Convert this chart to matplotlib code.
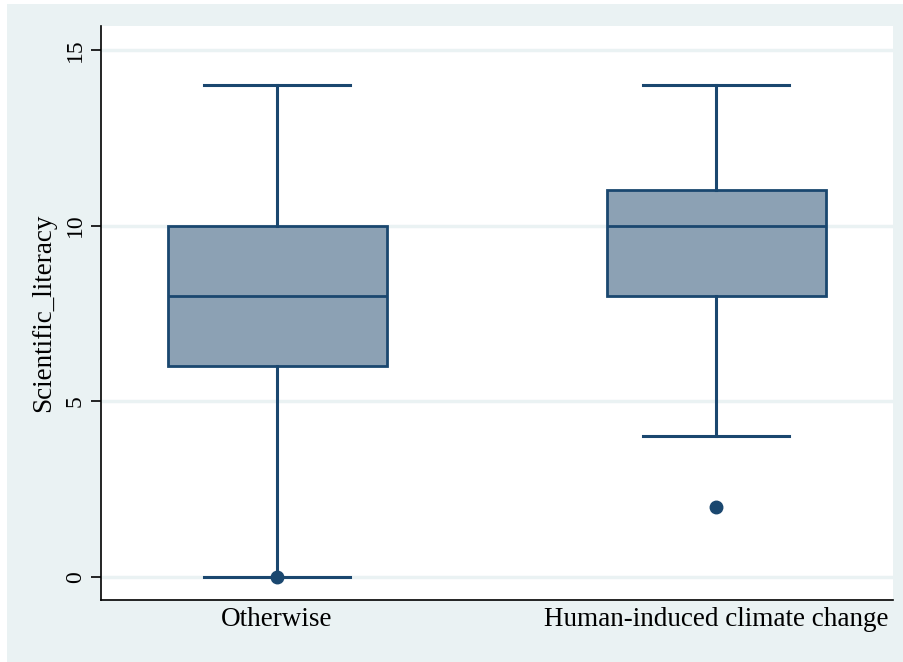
import matplotlib
matplotlib.use("Agg")
import matplotlib.pyplot as plt
from matplotlib.patches import Rectangle

categories = ["Otherwise", "Human-induced climate change"]
whisker_low = [0, 4]
q1 = [6, 8]
median = [8, 10]
q3 = [10, 11]
whisker_high = [14, 14]
outliers = [[0], [2]]
yticks = [0, 5, 10, 15]
ylabel = "Scientific_literacy"

plt.rcParams["font.family"] = ["Liberation Serif", "DejaVu Serif"]

W, H = 904, 662
fig = plt.figure(figsize=(W / 100, H / 100), dpi=100)
fig.patch.set_facecolor("white")
bg = "#EAF2F3"
fig.patches.append(Rectangle((7 / W, 0), 1, (H - 4) / H, transform=fig.transFigure,
                             facecolor=bg, edgecolor="none", zorder=-10))

ax = fig.add_axes([101 / W, (H - 600) / H, (893 - 101) / W, (600 - 26) / H])
ax.set_facecolor("white")

navy = "#1A476F"
fill = "#8CA1B4"
stats = []
for i, c in enumerate(categories):
    stats.append(dict(label=c, whislo=whisker_low[i], q1=q1[i], med=median[i],
                      q3=q3[i], whishi=whisker_high[i], fliers=outliers[i]))
ax.bxp(stats, positions=[0, 1], widths=0.499, patch_artist=True, showcaps=True,
       boxprops=dict(facecolor=fill, edgecolor=navy, linewidth=2.0),
       medianprops=dict(color=navy, linewidth=2.0),
       whiskerprops=dict(color=navy, linewidth=2.2),
       capprops=dict(color=navy, linewidth=2.2),
       capwidths=0.333,
       flierprops=dict(marker="o", markerfacecolor=navy, markeredgecolor=navy,
                       markersize=9, linestyle="none"),
       zorder=3)

ax.set_xlim(-0.401, 1.403)
ax.set_ylim(-0.66, 15.68)
ax.set_yticks(yticks)
ax.set_yticklabels([str(t) for t in yticks], rotation=90, va="center", fontsize=17)
ax.set_xticks([0, 1])
ax.set_xticklabels(categories, fontsize=19.5)
ax.tick_params(axis="x", length=0, pad=5)
ax.tick_params(axis="y", length=7, width=1.2, pad=4, colors="black")
ax.set_ylabel(ylabel, fontsize=19.5, labelpad=6)
for y in yticks:
    ax.axhline(y, color=bg, linewidth=2.5, zorder=1)
for s in ["top", "right"]:
    ax.spines[s].set_visible(False)
for s in ["left", "bottom"]:
    ax.spines[s].set_color("black")
    ax.spines[s].set_linewidth(1.2)

fig.savefig("out.png", dpi=100)
